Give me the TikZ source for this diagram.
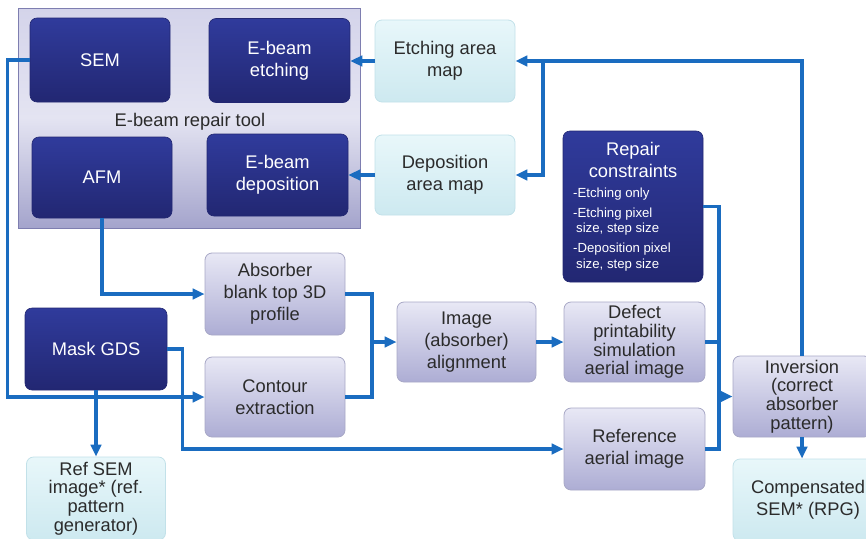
\documentclass[tikz,border=0pt]{standalone}
\usepackage{fontspec}
\setmainfont{Liberation Sans}
\usetikzlibrary{arrows.meta,calc}

\definecolor{navytop}{HTML}{303B9C}
\definecolor{navybot}{HTML}{222772}
\definecolor{lavtop}{HTML}{E8E8F5}
\definecolor{lavbot}{HTML}{ADADD4}
\definecolor{lavedge}{HTML}{A8A8C6}
\definecolor{cyantop}{HTML}{E8F7FA}
\definecolor{cyanbot}{HTML}{CDE9F0}
\definecolor{cyanedge}{HTML}{C2E1E9}
\definecolor{tooltop}{HTML}{D4D4EA}
\definecolor{toolmid}{HTML}{E4E4F2}
\definecolor{toolbot}{HTML}{A4A4CC}
\definecolor{tooledge}{HTML}{7E7EB0}
\definecolor{linkblue}{HTML}{1A6CC0}
\definecolor{ink}{HTML}{2B2B2B}

\begin{document}
\begin{tikzpicture}[x=1pt,y=-1pt,
  every node/.style={font=\fontsize{18.3}{22}\selectfont, align=center, inner sep=2pt},
  sz/.style 2 args={minimum width=#1pt, minimum height=#2pt},
  box/.style={rectangle, rounded corners=7pt},
  darkbox/.style={box, top color=navytop, bottom color=navybot, draw=navybot, line width=0.6pt, text=white},
  lightbox/.style={box, top color=lavtop, bottom color=lavbot, draw=lavedge, line width=0.8pt, text=ink},
  cyanbox/.style={box, top color=cyantop, bottom color=cyanbot, draw=cyanedge, line width=0.8pt, text=ink},
  toolbox/.style={rectangle, top color=tooltop, bottom color=toolbot, middle color=toolmid, draw=tooledge, line width=0.8pt},
  tight/.style={font=\fontsize{18.3}{18.8}\selectfont},
  link/.style={draw=linkblue, line width=3.4pt},
  arr/.style={link, -{Triangle[length=12pt,width=10.5pt]}}
]
\useasboundingbox (0,0) rectangle (866,538);

% E-beam repair tool frame and its four units
\node[toolbox, sz={342}{220}] (tool) at (189,118) {};
\node[text=ink] (tooltitle) at (190,122) {E-beam repair tool};
\node[darkbox, sz={140}{84}] (sem) at (100,60) {SEM};
\node[darkbox, sz={141}{84}] (etch) at (279.5,60.5) {E-beam\\etching};
\node[darkbox, sz={140}{81}] (afm) at (102,177.5) {AFM};
\node[darkbox, sz={141}{82}] (dep) at (277.5,175) {E-beam\\deposition};

% area maps
\node[cyanbox, sz={140}{82}] (etchmap) at (445,61) {Etching area\\map};
\node[cyanbox, sz={140}{80}] (depmap) at (445,175) {Deposition\\area map};

% repair constraints
\node[darkbox, sz={140}{151}] (repair) at (633,206.5) {};
\node[anchor=north, text=white] (repairhead) at ($(repair.north)+(0,9)$) {Repair\\constraints};
\node[anchor=north west, text=white, align=left, font=\fontsize{13.2}{15.5}\selectfont] (repairlist) at (571,185.5)
  {-Etching only\\[4.5pt]-Etching pixel\\\hspace*{3pt}size, step size\\[4.5pt]-Deposition pixel\\\hspace*{3pt}size, step size};

% processing chain
\node[lightbox, sz={140}{82}] (absorber) at (275,294) {Absorber\\blank top 3D\\profile};
\node[lightbox, sz={140}{80}] (contour) at (275,397) {Contour\\extraction};
\node[darkbox, sz={142}{82}] (maskgds) at (96,349) {Mask GDS};
\node[cyanbox, sz={139}{83}, tight] (refsem) at (96,498.5) {Ref SEM\\image* (ref.\\pattern\\generator)};
\node[lightbox, sz={139}{80}] (align) at (466.5,342) {Image\\(absorber)\\alignment};
\node[lightbox, sz={141}{80}, tight] (defect) at (634.5,342) {Defect\\printability\\simulation\\aerial image};
\node[lightbox, sz={141}{82}] (refaerial) at (634.5,449) {Reference\\aerial image};
\node[lightbox, sz={138}{81}, tight] (inversion) at (802,396.5) {Inversion\\(correct\\absorber\\pattern)};
\node[cyanbox, sz={150}{82}] (comp) at (808,500) {Compensated\\SEM* (RPG)};

% junction points
\coordinate (mergeA) at (372,342);
\coordinate (mergeB) at (719,396.5);
\coordinate (split) at (543,61);

% connectors
\draw[arr] (sem.west) -- ++(-22,0) |- (contour.west);
\draw[arr] (afm.south) |- (absorber.west);
\draw[arr] (maskgds.south) -- (refsem.north);
\draw[arr] (maskgds.east) -- ++(15,0) |- (refaerial.west);
\draw[link] (absorber.east) -| (mergeA);
\draw[link] (contour.east) -| (mergeA);
\draw[arr] (mergeA) -- (align.west);
\draw[arr] (align.east) -- (defect.west);
\draw[link] (repair.east) -| (mergeB);
\draw[link] (defect.east) -| (mergeB);
\draw[link] (refaerial.east) -| (mergeB);
\draw[arr] (mergeB) -- (inversion.west);
\draw[arr] (inversion.north) |- (etchmap.east);
\draw[arr] (split) |- (depmap.east);
\draw[arr] (etchmap.west) -- (etchmap.west -| etch.east);
\draw[arr] (depmap.west) -- (depmap.west -| dep.east);
\draw[arr] (inversion.south) -- (inversion.south |- comp.north);
\end{tikzpicture}
\end{document}
